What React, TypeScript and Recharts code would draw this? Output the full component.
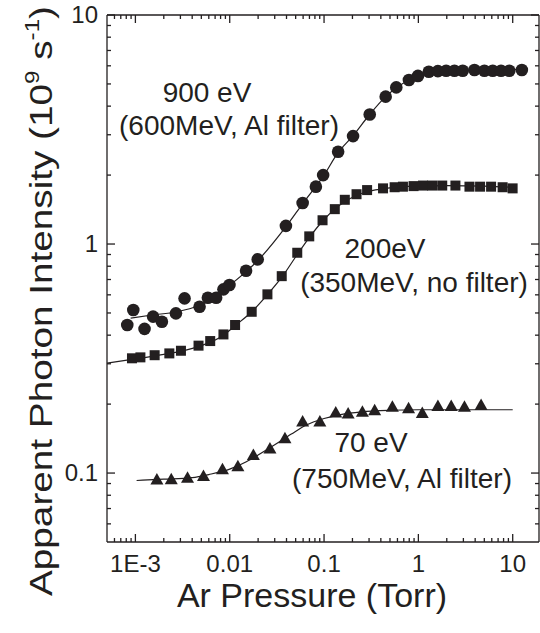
import { ComposedChart, XAxis, YAxis, Line, Scatter, Customized } from "recharts";

const FONT = "'Liberation Sans', Arial, sans-serif";
const INK = "#231f20";

// axis ranges (log scales)
const X_DOMAIN = [5e-4, 19];
const Y_DOMAIN = [0.05, 10];
const X_MAJOR = [1e-3, 0.01, 0.1, 1, 10];
const X_LABELS = ["1E-3", "0.01", "0.1", "1", "10"];
const X_MINOR = [
  6e-4, 7e-4, 8e-4, 9e-4,
  2e-3, 3e-3, 4e-3, 5e-3, 6e-3, 7e-3, 8e-3, 9e-3,
  0.02, 0.03, 0.04, 0.05, 0.06, 0.07, 0.08, 0.09,
  0.2, 0.3, 0.4, 0.5, 0.6, 0.7, 0.8, 0.9,
  2, 3, 4, 5, 6, 7, 8, 9,
];
const Y_MAJOR = [0.1, 1, 10];
const Y_LABELS = ["0.1", "1", "10"];
const Y_MINOR = [0.06, 0.07, 0.08, 0.09, 0.2, 0.3, 0.4, 0.5, 0.6, 0.7, 0.8, 0.9, 2, 3, 4, 5, 6, 7, 8, 9];

// 900 eV (600MeV, Al filter) - circles
const P900 = [8.2e-4, 9.5e-4, 1.25e-3, 1.54e-3, 1.91e-3, 2.69e-3, 3.32e-3, 4.79e-3, 5.87e-3, 7.18e-3, 8.58e-3, 9.93e-3, 0.0149, 0.0198, 0.0394, 0.0593, 0.0819, 0.0978, 0.141, 0.203, 0.305, 0.45, 0.583, 0.794, 0.99, 1.29, 1.61, 1.97, 2.41, 2.95, 3.93, 5.01, 6.14, 7.52, 9.2, 12.5];
const I900 = [0.443, 0.515, 0.426, 0.482, 0.458, 0.498, 0.579, 0.532, 0.583, 0.583, 0.634, 0.662, 0.764, 0.857, 1.2, 1.51, 1.78, 2.0, 2.53, 2.96, 3.68, 4.4, 4.83, 5.2, 5.42, 5.65, 5.69, 5.71, 5.71, 5.71, 5.75, 5.71, 5.71, 5.71, 5.71, 5.75];

// 200 eV (350MeV, no filter) - squares
const P200 = [9.2e-4, 1.13e-3, 1.6e-3, 2.29e-3, 3.04e-3, 4.67e-3, 6.21e-3, 8.58e-3, 0.0114, 0.0171, 0.0251, 0.0356, 0.052, 0.0697, 0.0964, 0.13, 0.166, 0.221, 0.286, 0.422, 0.56, 0.686, 0.889, 1.12, 1.4, 1.79, 2.47, 3.48, 4.51, 5.9, 7.82, 9.98];
const I200 = [0.317, 0.32, 0.327, 0.333, 0.342, 0.36, 0.377, 0.403, 0.443, 0.506, 0.603, 0.724, 0.916, 1.08, 1.27, 1.42, 1.56, 1.65, 1.72, 1.75, 1.77, 1.78, 1.79, 1.8, 1.8, 1.8, 1.8, 1.78, 1.78, 1.78, 1.77, 1.75];

// 70 eV (750MeV, Al filter) - triangles
const P70 = [1.69e-3, 2.4e-3, 3.57e-3, 5.27e-3, 8.38e-3, 0.0122, 0.0178, 0.0267, 0.0385, 0.0593, 0.0903, 0.133, 0.18, 0.255, 0.344, 0.53, 0.787, 1.1, 1.61, 2.23, 3.08, 4.62];
const I70 = [0.0938, 0.094, 0.0953, 0.097, 0.104, 0.107, 0.12, 0.128, 0.142, 0.168, 0.168, 0.184, 0.182, 0.185, 0.188, 0.195, 0.192, 0.183, 0.196, 0.196, 0.195, 0.198];

// fitted curves
const F900_P = [8.9e-4, 1.5e-3, 2.7e-3, 4.8e-3, 7.2e-3, 0.01, 0.015, 0.02, 0.04, 0.06, 0.1, 0.14, 0.2, 0.3, 0.45, 0.6, 0.8, 1, 1.3, 2, 5, 12.5];
const F900_I = [0.475, 0.49, 0.505, 0.54, 0.59, 0.66, 0.76, 0.85, 1.2, 1.51, 2.0, 2.5, 2.95, 3.65, 4.4, 4.85, 5.2, 5.42, 5.58, 5.7, 5.75, 5.78];
const F200_P = [5e-4, 1e-3, 2e-3, 3e-3, 5e-3, 8.6e-3, 0.0114, 0.017, 0.025, 0.036, 0.052, 0.07, 0.1, 0.13, 0.17, 0.22, 0.3, 0.45, 0.7, 1, 2, 5, 10];
const F200_I = [0.302, 0.315, 0.33, 0.34, 0.36, 0.4, 0.44, 0.505, 0.6, 0.72, 0.9, 1.07, 1.28, 1.42, 1.54, 1.63, 1.7, 1.75, 1.78, 1.79, 1.8, 1.79, 1.77];
const F70_P = [1.03e-3, 2e-3, 4e-3, 6e-3, 0.01, 0.015, 0.02, 0.03, 0.045, 0.065, 0.1, 0.15, 0.25, 0.5, 1, 3, 10];
const F70_I = [0.0928, 0.094, 0.0955, 0.0985, 0.104, 0.112, 0.12, 0.133, 0.148, 0.162, 0.173, 0.18, 0.185, 0.188, 0.189, 0.189, 0.189];

const pts = (xs: number[], ys: number[]) => xs.map((x, i) => ({ x, y: ys[i] }));

const MAJOR_LEN = 8;
const MINOR_LEN = 4;

function makeTick(side: "bottom" | "top" | "left" | "right", majors: number[], labels: string[] | null) {
  return (props: any) => {
    const { x, y, payload } = props;
    const v = payload.value;
    const mi = majors.indexOf(v);
    const len = mi >= 0 ? MAJOR_LEN : MINOR_LEN;
    let line;
    if (side === "bottom") line = <line x1={x} x2={x} y1={y} y2={y - len} />;
    else if (side === "top") line = <line x1={x} x2={x} y1={y} y2={y + len} />;
    else if (side === "left") line = <line x1={x} x2={x + len} y1={y} y2={y} />;
    else line = <line x1={x} x2={x - len} y1={y} y2={y} />;
    return (
      <g>
        <g stroke={INK} strokeWidth={1.3}>{line}</g>
        {labels && mi >= 0 && side === "bottom" && (
          <text x={x} y={y + 30} textAnchor="middle" fontSize={24} fill={INK} fontFamily={FONT}>
            {labels[mi]}
          </text>
        )}
        {labels && mi >= 0 && side === "left" && (
          <text x={x - 9} y={y + 8} textAnchor="end" fontSize={24} fill={INK} fontFamily={FONT}>
            {labels[mi]}
          </text>
        )}
      </g>
    );
  };
}

const CircleDot = (p: any) => <circle cx={p.cx} cy={p.cy} r={6.3} fill={INK} />;
const SquareDot = (p: any) => <rect x={p.cx - 5} y={p.cy - 5} width={10} height={10} fill={INK} />;
const TriDot = (p: any) => (
  <polygon points={`${p.cx},${p.cy - 6.5} ${p.cx - 6.5},${p.cy + 5} ${p.cx + 6.5},${p.cy + 5}`} fill={INK} />
);

function Annotations() {
  const t = { fontFamily: FONT, fill: INK, textAnchor: "middle" as const };
  return (
    <g>
      <text {...t} x={207} y={102} fontSize={28}>900 eV</text>
      <text {...t} x={229} y={135} fontSize={28}>(600MeV, Al filter)</text>
      <text {...t} x={385} y={258} fontSize={28}>200eV</text>
      <text {...t} x={414} y={292} fontSize={28}>(350MeV, no filter)</text>
      <text {...t} x={371} y={452} fontSize={28}>70 eV</text>
      <text {...t} x={402} y={488} fontSize={28}>(750MeV, Al filter)</text>
      <text {...t} x={312} y={607} fontSize={34}>Ar Pressure (Torr)</text>
      <text
        {...t}
        x={0}
        y={0}
        fontSize={32}
        textLength={590}
        lengthAdjust="spacingAndGlyphs"
        transform="translate(52,301) rotate(-90)"
      >
        Apparent Photon Intensity (10
        <tspan fontSize={20} dy={-13}>9</tspan>
        <tspan dy={13}> s</tspan>
        <tspan fontSize={20} dy={-13}>-1</tspan>
        <tspan dy={13}>)</tspan>
      </text>
    </g>
  );
}

export default function App() {
  return (
    <div style={{ position: "absolute", left: 0, top: 0, width: 540, height: 633, background: "#fff" }}>
      <ComposedChart width={540} height={633} margin={{ top: 0, right: 0, bottom: 0, left: 0 }}>
        <XAxis
          xAxisId="b"
          dataKey="x"
          type="number"
          scale="log"
          domain={X_DOMAIN}
          allowDataOverflow
          ticks={[...X_MAJOR, ...X_MINOR]}
          interval={0}
          height={91}
          tickSize={0}
          tickMargin={0}
          tickLine={false}
          axisLine={{ stroke: INK, strokeWidth: 1.3 }}
          tick={makeTick("bottom", X_MAJOR, X_LABELS)}
        />
        <XAxis
          xAxisId="t"
          orientation="top"
          dataKey="x"
          type="number"
          scale="log"
          domain={X_DOMAIN}
          allowDataOverflow
          ticks={[...X_MAJOR, ...X_MINOR]}
          interval={0}
          height={15}
          tickSize={0}
          tickMargin={0}
          tickLine={false}
          axisLine={{ stroke: INK, strokeWidth: 1.3 }}
          tick={makeTick("top", X_MAJOR, null)}
        />
        <YAxis
          yAxisId="l"
          dataKey="y"
          type="number"
          scale="log"
          domain={Y_DOMAIN}
          allowDataOverflow
          ticks={[...Y_MAJOR, ...Y_MINOR]}
          interval={0}
          width={107}
          tickSize={0}
          tickMargin={0}
          tickLine={false}
          axisLine={{ stroke: INK, strokeWidth: 1.3 }}
          tick={makeTick("left", Y_MAJOR, Y_LABELS)}
        />
        <YAxis
          yAxisId="r"
          orientation="right"
          dataKey="y"
          type="number"
          scale="log"
          domain={Y_DOMAIN}
          allowDataOverflow
          ticks={[...Y_MAJOR, ...Y_MINOR]}
          interval={0}
          width={1}
          tickSize={0}
          tickMargin={0}
          tickLine={false}
          axisLine={{ stroke: INK, strokeWidth: 1.3 }}
          tick={makeTick("right", Y_MAJOR, null)}
        />
        <Line xAxisId="b" yAxisId="l" data={pts(F900_P, F900_I)} dataKey="y" type="monotone" stroke={INK} strokeWidth={1.2} dot={false} isAnimationActive={false} />
        <Line xAxisId="b" yAxisId="l" data={pts(F200_P, F200_I)} dataKey="y" type="monotone" stroke={INK} strokeWidth={1.2} dot={false} isAnimationActive={false} />
        <Line xAxisId="b" yAxisId="l" data={pts(F70_P, F70_I)} dataKey="y" type="monotone" stroke={INK} strokeWidth={1.2} dot={false} isAnimationActive={false} />
        <Scatter xAxisId="b" yAxisId="l" data={pts(P900, I900)} dataKey="y" shape={CircleDot} isAnimationActive={false} />
        <Scatter xAxisId="b" yAxisId="l" data={pts(P200, I200)} dataKey="y" shape={SquareDot} isAnimationActive={false} />
        <Scatter xAxisId="b" yAxisId="l" data={pts(P70, I70)} dataKey="y" shape={TriDot} isAnimationActive={false} />
        <Line xAxisId="t" yAxisId="r" data={pts(F70_P, F70_I)} dataKey="y" stroke="none" dot={false} activeDot={false} isAnimationActive={false} />
        <Customized component={Annotations} />
      </ComposedChart>
    </div>
  );
}
